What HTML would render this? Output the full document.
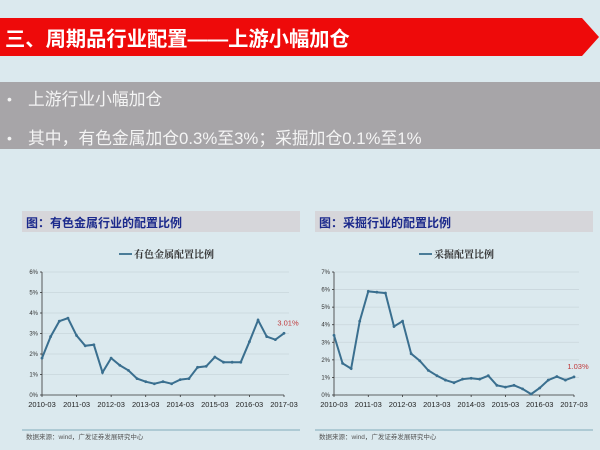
<!DOCTYPE html>
<html><head><meta charset="utf-8">
<style>
html,body{margin:0;padding:0;}
body{width:600px;height:450px;overflow:hidden;background:#dbe9ee;font-family:"Liberation Sans","Noto Sans CJK SC",sans-serif;}
</style></head>
<body>
<svg id="s" width="600" height="450" xmlns="http://www.w3.org/2000/svg" style="position:absolute;left:0;top:0">
<rect width="600" height="450" fill="#dbe9ee"/>
<polygon points="0,18 582,18 599,37 582,56 0,56" fill="#ee0a0a"/>
<text x="5" y="46" fill="#fff" font-size="20.3" font-weight="bold" font-family="Liberation Sans,Noto Sans CJK SC,sans-serif">三、周期品行业配置——上游小幅加仓</text>
<rect x="0" y="82" width="600" height="67" fill="#a7a5a8"/>
<text x="7" y="104" fill="#f4f4f4" font-size="14">•</text>
<text x="28" y="105" fill="#f4f4f4" font-size="16.8" font-family="Liberation Sans,Noto Sans CJK SC,sans-serif">上游行业小幅加仓</text>
<text x="7" y="143" fill="#f4f4f4" font-size="14">•</text>
<text x="28" y="144" fill="#f4f4f4" font-size="16.8" font-family="Liberation Sans,Noto Sans CJK SC,sans-serif">其中，有色金属加仓0.3%至3%；采掘加仓0.1%至1%</text>
<rect x="22" y="211" width="278" height="21" fill="#d6d6da"/>
<rect x="315" y="211" width="278" height="21" fill="#d6d6da"/>
<text x="26" y="227" fill="#1c2a8c" font-size="12" font-weight="bold" font-family="Liberation Sans,Noto Sans CJK SC,sans-serif">图：有色金属行业的配置比例</text>
<text x="319" y="227" fill="#1c2a8c" font-size="12" font-weight="bold" font-family="Liberation Sans,Noto Sans CJK SC,sans-serif">图：采掘行业的配置比例</text>
<line x1="22" y1="430" x2="300" y2="430" stroke="#9fbfcc" stroke-width="1.5"/>
<line x1="315" y1="430" x2="593" y2="430" stroke="#9fbfcc" stroke-width="1.5"/>
<text x="26" y="439" fill="#555" font-size="6.5" font-family="Liberation Sans,Noto Sans CJK SC,sans-serif">数据来源：wind，广发证券发展研究中心</text>
<text x="319" y="439" fill="#555" font-size="6.5" font-family="Liberation Sans,Noto Sans CJK SC,sans-serif">数据来源：wind，广发证券发展研究中心</text>
<g id="g"></g>
</svg>
<script>
var NS="http://www.w3.org/2000/svg",g=document.getElementById('g');
function el(t,a,txt){var e=document.createElementNS(NS,t);for(var k in a)e.setAttribute(k,a[k]);if(txt!=null)e.textContent=txt;g.appendChild(e);return e;}
function chart(x0,x1,y0,y1,max,data,legend,lx,last){
  var ppu=(y0-y1)/max;
  for(var i=1;i<=max;i++){var y=y0-i*ppu;el('line',{x1:x0,y1:y,x2:x1+5,y2:y,stroke:'#c9d6db','stroke-width':0.8});}
  el('line',{x1:x0,y1:y1,x2:x0,y2:y0,stroke:'#333','stroke-width':0.8});
  el('line',{x1:x0,y1:y0,x2:x1,y2:y0,stroke:'#333','stroke-width':0.8});
  for(var i=0;i<=max;i++){var y=y0-i*ppu;el('line',{x1:x0-2,y1:y,x2:x0,y2:y,stroke:'#333','stroke-width':0.8});
    el('text',{x:x0-4,y:y+2,'font-size':6,'text-anchor':'end',fill:'#333'},i+'%');}
  for(var j=0;j<=7;j++){var x=x0+(x1-x0)*j/7;el('line',{x1:x,y1:y0,x2:x,y2:y0+2,stroke:'#333','stroke-width':0.8});
    el('text',{x:x,y:y0+12,'font-size':7.5,'text-anchor':'middle',fill:'#222'},(2010+j)+'-03');}
  var pts=data.map(function(v,i){return [x0+(x1-x0)*i/(data.length-1),y0-v*ppu];});
  el('polyline',{points:pts.map(function(p){return p.join(',')}).join(' '),fill:'none',stroke:'#3a6f8f','stroke-width':2});
  pts.forEach(function(p){el('circle',{cx:p[0],cy:p[1],r:1.4,fill:'#3a6f8f'});});
  el('line',{x1:lx,y1:254,x2:lx+13,y2:254,stroke:'#3a6f8f','stroke-width':1.8});
  el('text',{x:lx+15,y:258,'font-size':10,'font-weight':'bold',fill:'#333','font-family':'Noto Serif CJK SC,serif'},legend);
  var p=pts[pts.length-1];
  el('text',{x:p[0]+4,y:p[1]-8,'font-size':7.5,'text-anchor':'middle',fill:'#c0393b'},last);
}
chart(42,284,395,272,6,[1.8,2.85,3.6,3.75,2.9,2.4,2.45,1.1,1.8,1.45,1.2,0.8,0.65,0.55,0.65,0.55,0.75,0.8,1.35,1.4,1.85,1.6,1.6,1.6,2.6,3.65,2.85,2.7,3.01],'有色金属配置比例',119,'3.01%');
chart(334,574,395,272,7,[3.4,1.8,1.5,4.2,5.9,5.85,5.8,3.9,4.2,2.35,1.95,1.4,1.1,0.85,0.7,0.9,0.95,0.9,1.1,0.55,0.45,0.55,0.35,0.05,0.4,0.85,1.05,0.85,1.03],'采掘配置比例',419,'1.03%');
</script>
</body></html>
